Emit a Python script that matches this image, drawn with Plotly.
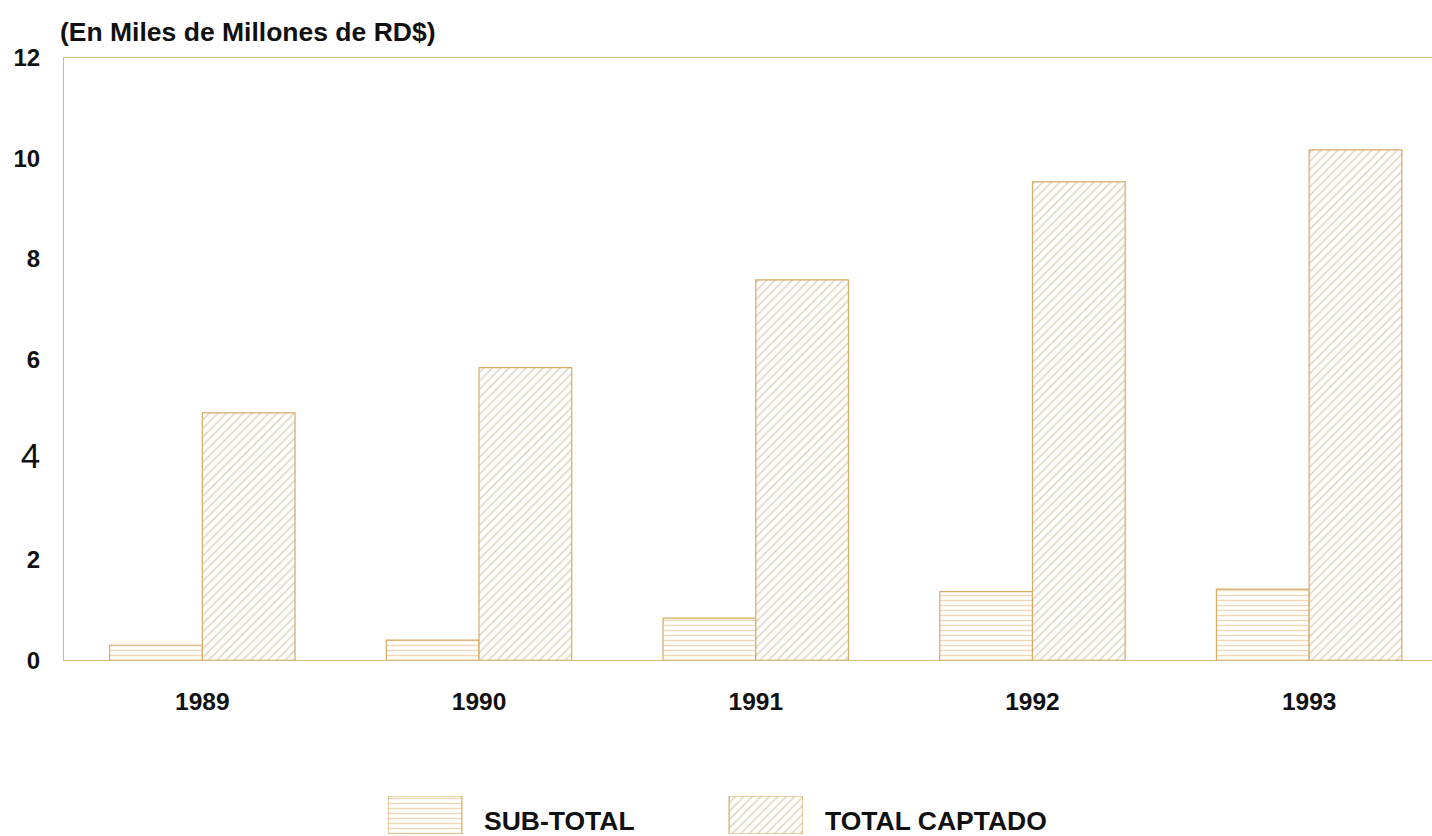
import plotly.graph_objects as go

# ---- data ----
years = ["1989", "1990", "1991", "1992", "1993"]
sub_total = [0.30, 0.40, 0.84, 1.37, 1.42]
total_captado = [4.93, 5.83, 7.58, 9.53, 10.17]
series_names = ["SUB-TOTAL", "TOTAL CAPTADO"]
y_tick_vals = [0, 2, 4, 6, 8, 10, 12]
y_tick_text = ["0", "2", "<span style='font-size:35px;font-weight:normal'>4</span>",
               "6", "8", "10", "12"]
title_text = "(En Miles de Millones de RD$)"

# ---- styles ----
FONT = "Liberation Sans, Arial, sans-serif"
AXIS_COLOR = "#d8b680"
SUB_LINE = "#e0b272"
TOT_LINE = "#c6b088"
OUTLINE = "#d6aa62"

sub_marker = dict(color="white",
                  pattern=dict(shape="-", fgcolor=SUB_LINE, bgcolor="white", size=5, solidity=0.28),
                  line=dict(color=OUTLINE, width=1.2))
tot_marker = dict(color="white",
                  pattern=dict(shape="/", fgcolor=TOT_LINE, bgcolor="white", size=6, solidity=0.3),
                  line=dict(color=OUTLINE, width=1.2))

fig = go.Figure()
fig.add_trace(go.Bar(x=years, y=sub_total, name=series_names[0], marker=sub_marker,
                     xaxis="x", yaxis="y", showlegend=False))
fig.add_trace(go.Bar(x=years, y=total_captado, name=series_names[1], marker=tot_marker,
                     xaxis="x", yaxis="y", showlegend=False))

# custom legend swatches on a small helper axis
fig.add_trace(go.Bar(x=[0], y=[1], width=[0.2167], marker=sub_marker, xaxis="x2", yaxis="y2",
                     showlegend=False, hoverinfo="skip"))
fig.add_trace(go.Bar(x=[1], y=[1], width=[0.2167], marker=tot_marker, xaxis="x2", yaxis="y2",
                     showlegend=False, hoverinfo="skip"))

REF_H = 836
W, H = 1432, 850
S = H / REF_H  # vertical scale of the page vs reference


def vy(px):
    return px * S


ML, MT = 64, vy(57)
plot_h = H - MT
plot_w = W - ML
y_bottom_px = vy(659.3)

fig.update_layout(
    width=W, height=H,
    margin=dict(l=ML, r=0, t=MT, b=0),
    paper_bgcolor="white", plot_bgcolor="white",
    barmode="group", bargap=0.33, bargroupgap=0,
    font=dict(family=FONT, color="#111"),
    title=dict(text=title_text, xref="container", yref="container",
               x=60 / W, xanchor="left", y=1 - vy(31) / H, yanchor="middle",
               font=dict(family=FONT, size=26.5, weight="bold", color="#111")),
    xaxis=dict(domain=[0, 1], range=[-0.5, 4.444], showgrid=False, zeroline=False,
               showline=True, linecolor=AXIS_COLOR, linewidth=1, mirror=True,
               ticks="", ticklabelstandoff=19,
               tickfont=dict(family=FONT, size=24.5, weight="bold", color="#111"),
               anchor="y"),
    yaxis=dict(domain=[(H - y_bottom_px) / plot_h, 1], range=[0, 12], showgrid=False,
               zeroline=False, showline=True, linecolor=AXIS_COLOR, linewidth=1,
               tickvals=y_tick_vals, ticktext=y_tick_text, ticks="", ticklabelstandoff=18,
               tickfont=dict(family=FONT, size=24, weight="bold", color="#111"),
               anchor="x"),
    xaxis2=dict(domain=[(388 - ML) / plot_w, (803 - ML) / plot_w], range=[-0.1083, 1.1083],
                visible=False, anchor="y2"),
    yaxis2=dict(domain=[(H - vy(833)) / plot_h, (H - vy(795)) / plot_h], range=[0, 1],
                visible=False, anchor="x2"),
)

for name, xpx in zip(series_names, [482, 823]):
    fig.add_annotation(text=name, xref="paper", yref="paper",
                       x=(xpx - ML) / plot_w, xanchor="left",
                       y=(H - vy(820)) / plot_h, yanchor="middle", showarrow=False,
                       font=dict(family=FONT, size=26.5, weight="bold", color="#111"))

fig.write_html("out.html", config={"displayModeBar": False},
               post_script="document.body.style.margin='0';document.body.style.overflow='hidden';")
